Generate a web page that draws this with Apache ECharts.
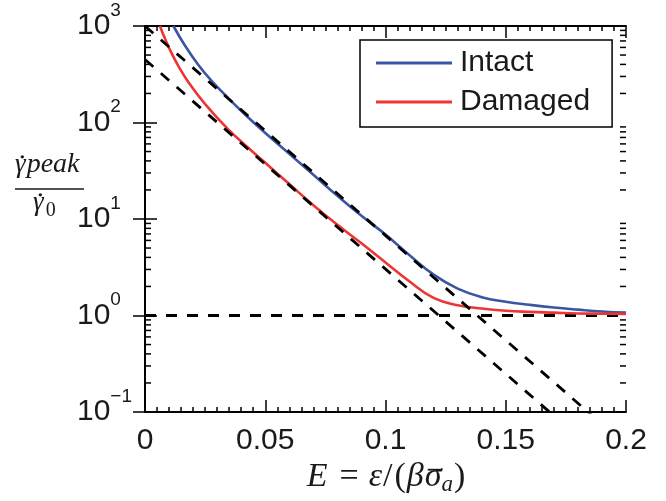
<!DOCTYPE html>
<html>
<head>
<meta charset="utf-8">
<style>
  html, body { margin: 0; padding: 0; background: #fff; }
  #chart { width: 666px; height: 501px; }
</style>
<script src="https://cdn.jsdelivr.net/npm/echarts/dist/echarts.min.js"></script>
</head>
<body>
<div id="chart"></div>
<script>
// Normalised peak strain rate against E for intact and damaged material
const intactX = [0.0118, 0.0166, 0.0222, 0.0277, 0.0346, 0.0416, 0.0492, 0.06, 0.07, 0.08, 0.09, 0.10, 0.11, 0.12, 0.13, 0.14, 0.15, 0.16, 0.17, 0.18, 0.19, 0.20];
const intactY = [1000, 628, 395, 270, 179, 121, 81, 47.3, 28.7, 17.4, 10.8, 6.9, 4.2, 2.65, 1.9, 1.55, 1.39, 1.29, 1.21, 1.15, 1.10, 1.07];

const damagedX = [0.0062, 0.0083, 0.0111, 0.0139, 0.018, 0.025, 0.0346, 0.0444, 0.05, 0.06, 0.07, 0.08, 0.09, 0.10, 0.11, 0.12, 0.13, 0.14, 0.15, 0.16, 0.17, 0.18, 0.19, 0.20];
const damagedY = [1000, 741, 520, 384, 263, 155, 85, 50.7, 38.2, 23, 13.9, 8.7, 5.6, 3.55, 2.25, 1.52, 1.28, 1.18, 1.12, 1.09, 1.07, 1.05, 1.045, 1.04];

// Exponential asymptotes (straight on the log axis) and the unit level
const intactFitX = [0, 0.2];
const intactFitY = [1000, 0.0454];
const damagedFitX = [0, 0.2];
const damagedFitY = [450, 0.0204];
const unitX = [0, 0.2];
const unitY = [1, 1];

// Axis ranges and tick values
const xMin = 0, xMax = 0.2, xStep = 0.05;
const yMin = 0.1, yMax = 1000;
const yMinorTicks = [0.2, 0.3, 0.4, 0.5, 0.6, 0.7, 0.8, 0.9,
                     2, 3, 4, 5, 6, 7, 8, 9,
                     20, 30, 40, 50, 60, 70, 80, 90,
                     200, 300, 400, 500, 600, 700, 800, 900];

const pairs = (xs, ys) => xs.map((x, i) => [x, ys[i]]);

const SANS = 'Liberation Sans, Arial, Helvetica, sans-serif';
const SERIF = '"Liberation Serif", "Times New Roman", serif';
const INK = '#1a1a1a';
const BLUE = '#3a55a5';
const RED = '#ee3535';

// ---- small math-label typesetter: runs of text placed on a shared baseline ----
const measureCtx = document.createElement('canvas').getContext('2d');
function fontStr(r) { return (r.italic ? 'italic ' : '') + r.size + 'px ' + SERIF; }
function textWidth(r) { measureCtx.font = fontStr(r); return measureCtx.measureText(r.text).width; }

// Lays runs left to right from x0; returns text elements and each run's box
function typeset(runs, x0, baseline) {
  const els = [], boxes = [];
  let x = x0;
  runs.forEach(r => {
    x += r.before || 0;
    const w = textWidth(r);
    const b = baseline + (r.dy || 0);
    els.push({
      type: 'text', x: x, y: b - 0.3375 * r.size, silent: true,
      style: { text: r.text, font: fontStr(r), fill: INK, align: 'left', verticalAlign: 'middle' }
    });
    boxes.push({ x: x, w: w, baseline: b, size: r.size });
    x += w + (r.after || 0);
  });
  return { els, boxes, width: x - x0 };
}
function centred(runs, cx, baseline) {
  const probe = typeset(runs, 0, baseline);
  return typeset(runs, cx - probe.width / 2, baseline);
}
// dot accent above a glyph (time derivative)
function dotAbove(box, dx, lift) {
  return { type: 'circle', silent: true, shape: { cx: box.x + box.w * 0.5 + dx, cy: box.baseline - 0.45 * box.size - lift, r: 1.7 }, style: { fill: INK } };
}
// bar accent above a glyph (mean value)
function barAbove(box, dx, lift) {
  const y = box.baseline - 0.45 * box.size - lift;
  return { type: 'line', silent: true, shape: { x1: box.x + dx + 1, y1: y, x2: box.x + box.w + dx - 1, y2: y }, style: { stroke: INK, lineWidth: 1.8 } };
}

// y-axis title: gamma-dot_peak over gamma-dot_0
const num = typeset([
  { text: '\u03B3', size: 27, italic: true },
  { text: 'peak', size: 28, italic: true, before: 1 }
], 15, 174);
const den = typeset([
  { text: '\u03B3', size: 27, italic: true },
  { text: '0', size: 20, italic: false, before: 2, dy: 5 }
], 33, 212);
// x-axis title: E = epsilon / (beta sigma-bar_a)
const xt = centred([
  { text: 'E', size: 34, italic: true, after: 12 },
  { text: '=', size: 34, italic: false, after: 10 },
  { text: '\u03B5', size: 34, italic: true, after: 1 },
  { text: '/', size: 34, italic: false, after: 2 },
  { text: '(', size: 34, italic: false, after: 1 },
  { text: '\u03B2', size: 34, italic: true, after: 1 },
  { text: '\u03C3', size: 34, italic: true },
  { text: 'a', size: 23, italic: true, dy: 4, after: 1 },
  { text: ')', size: 34, italic: false }
], 386, 489);

const graphics = [].concat(
  num.els,
  [dotAbove(num.boxes[0], 2, 5)],
  [{ type: 'line', silent: true, shape: { x1: 15, y1: 189, x2: 84, y2: 189 }, style: { stroke: INK, lineWidth: 1.3 } }],
  den.els,
  [dotAbove(den.boxes[0], 2, 5)],
  xt.els,
  [barAbove(xt.boxes[6], 2, 4)]
);

const chart = echarts.init(document.getElementById('chart'), null, { renderer: 'canvas' });

const frameLine = { show: true, lineStyle: { color: '#000', width: 2 } };
const majorTick = { show: true, inside: true, length: 12, lineStyle: { color: '#000', width: 1.5 } };
const minorTick = { show: true, splitNumber: 10, length: 5, lineStyle: { color: '#000', width: 1.5 } };

const option = {
  animation: false,
  backgroundColor: '#fff',
  grid: { left: 145, right: 40, top: 26, bottom: 89, containLabel: false },
  legend: {
    data: ['Intact', 'Damaged'],
    orient: 'vertical',
    left: 360,
    top: 40,
    icon: 'rect',
    itemWidth: 76,
    itemHeight: 3,
    itemGap: 9,
    padding: [8, 22, 10, 16],
    borderColor: '#000',
    borderWidth: 1.5,
    borderRadius: 0,
    backgroundColor: '#fff',
    textStyle: { fontSize: 30, fontFamily: SANS, color: INK, padding: [0, 0, 0, 3] }
  },
  xAxis: [
    {
      type: 'value', position: 'bottom', min: xMin, max: xMax, interval: xStep,
      axisLine: frameLine, axisTick: majorTick, minorTick: minorTick,
      splitLine: { show: false },
      axisLabel: {
        fontSize: 30, fontFamily: SANS, color: INK, margin: 14,
        showMinLabel: true, showMaxLabel: true,
        formatter: v => String(+v.toFixed(3))
      }
    },
    {
      type: 'value', position: 'top', min: xMin, max: xMax, interval: xStep,
      axisLine: frameLine, axisTick: majorTick, minorTick: minorTick,
      splitLine: { show: false },
      axisLabel: { show: false }
    }
  ],
  yAxis: [
    {
      type: 'log', logBase: 10, position: 'left', min: yMin, max: yMax,
      axisLine: frameLine, axisTick: majorTick,
      splitLine: { show: false },
      axisLabel: {
        align: 'left', margin: 68,
        formatter: v => {
          const e = Math.round(Math.log10(v));
          return '{b|10}{s|' + (e < 0 ? '\u2212' + (-e) : e) + '}';
        },
        rich: {
          b: { fontSize: 30, fontFamily: SANS, color: INK, lineHeight: 50, verticalAlign: 'middle' },
          s: { fontSize: 19, fontFamily: SANS, color: INK, lineHeight: 22, verticalAlign: 'top' }
        }
      }
    },
    {
      type: 'log', logBase: 10, position: 'right', min: yMin, max: yMax,
      axisLine: frameLine, axisTick: majorTick,
      splitLine: { show: false },
      axisLabel: { show: false }
    }
  ],
  series: [
    {
      name: 'Intact', type: 'line', xAxisIndex: 0, yAxisIndex: 0,
      data: pairs(intactX, intactY), smooth: 0.45, symbol: 'none',
      color: BLUE, lineStyle: { color: BLUE, width: 2.6 }, z: 3
    },
    {
      name: 'Damaged', type: 'line', xAxisIndex: 0, yAxisIndex: 0,
      data: pairs(damagedX, damagedY), smooth: 0.45, symbol: 'none',
      color: RED, lineStyle: { color: RED, width: 2.6 }, z: 3
    },
    {
      name: 'intact fit', type: 'line', xAxisIndex: 0, yAxisIndex: 0,
      data: pairs(intactFitX, intactFitY), symbol: 'none', clip: true,
      lineStyle: { color: '#000', width: 2.8, type: [11, 10] }, z: 4
    },
    {
      name: 'damaged fit', type: 'line', xAxisIndex: 0, yAxisIndex: 0,
      data: pairs(damagedFitX, damagedFitY), symbol: 'none', clip: true,
      lineStyle: { color: '#000', width: 2.8, type: [11, 10] }, z: 4
    },
    {
      name: 'unit level', type: 'line', xAxisIndex: 0, yAxisIndex: 0,
      data: pairs(unitX, unitY), symbol: 'none', clip: true,
      lineStyle: { color: '#000', width: 2.8, type: [11, 10] }, z: 2
    },
    {
      // logarithmic minor ticks on the left and right frame edges
      name: 'minor ticks', type: 'custom', xAxisIndex: 0, yAxisIndex: 0,
      data: yMinorTicks.map(v => [xMin, v]),
      encode: { x: 0, y: 1 },
      clip: false, silent: true, z: 5,
      renderItem: (params, api) => {
        const v = api.value(1);
        const pl = api.coord([xMin, v]);
        const pr = api.coord([xMax, v]);
        const st = { stroke: '#000', lineWidth: 1.5 };
        return {
          type: 'group',
          children: [
            { type: 'line', shape: { x1: pl[0], y1: pl[1], x2: pl[0] + 6, y2: pl[1] }, style: st },
            { type: 'line', shape: { x1: pr[0] - 6, y1: pr[1], x2: pr[0], y2: pr[1] }, style: st }
          ]
        };
      }
    }
  ],
  graphic: graphics
};

chart.setOption(option);
</script>
</body>
</html>
